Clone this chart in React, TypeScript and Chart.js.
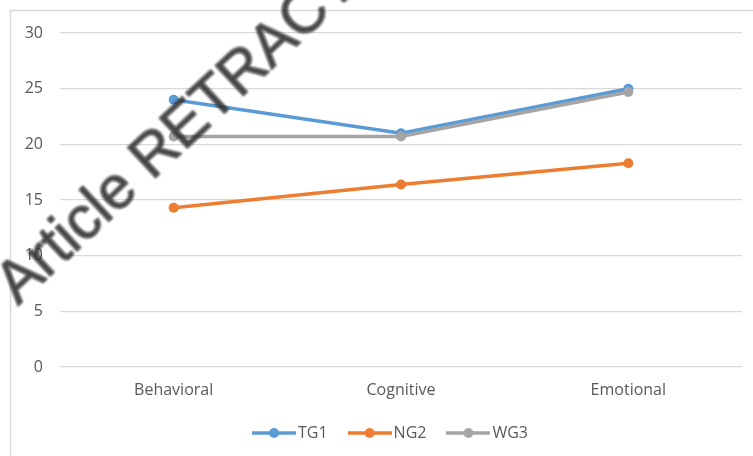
import React, { useEffect, useRef } from "react";
import { Chart, registerables } from "chart.js";

Chart.register(...registerables);

const categories = ["Behavioral", "Cognitive", "Emotional"];
const seriesNames = ["TG1", "NG2", "WG3"];
const tg1Values = [24.0, 21.0, 25.0];
const ng2Values = [14.3, 16.4, 18.3];
const wg3Values = [20.7, 20.7, 24.7];
const seriesColors = ["#5B9BD5", "#ED7D31", "#A5A5A5"];
const yMin = 0;
const yMax = 30;
const yStep = 5;
const watermarkText = "Article RETRACTED";

const FONT = "'Open Sans', 'Liberation Sans', sans-serif";

function makeLegendIcon(color: string): HTMLCanvasElement {
  const c = document.createElement("canvas");
  c.width = 44;
  c.height = 12;
  const ctx = c.getContext("2d")!;
  ctx.strokeStyle = color;
  ctx.lineWidth = 3.5;
  ctx.beginPath();
  ctx.moveTo(0, 6);
  ctx.lineTo(44, 6);
  ctx.stroke();
  ctx.fillStyle = color;
  ctx.beginPath();
  ctx.arc(22, 6, 5, 0, Math.PI * 2);
  ctx.fill();
  return c;
}

const framePlugin = {
  id: "frame",
  beforeDraw(chart: any) {
    const ctx = chart.ctx;
    ctx.save();
    ctx.fillStyle = "#ffffff";
    ctx.fillRect(0, 0, chart.width, chart.height);
    ctx.strokeStyle = "#d9d9d9";
    ctx.lineWidth = 1.5;
    ctx.strokeRect(10.5, 10.5, chart.width + 20, chart.height + 20);
    ctx.restore();
  },
};

const legendShiftPlugin = {
  id: "legendShift",
  afterLayout(chart: any) {
    const l = chart.legend;
    if (l) {
      l.left += 22;
      l.right += 22;
    }
  },
};

const watermarkPlugin = {
  id: "watermark",
  afterDraw(chart: any) {
    const ctx = chart.ctx;
    ctx.save();
    ctx.translate(18, 306);
    ctx.rotate((-43 * Math.PI) / 180);
    ctx.filter = "blur(1.2px)";
    ctx.font = "60px 'Liberation Sans', Arial, sans-serif";
    ctx.fillStyle = "rgba(50,50,50,0.9)";
    ctx.strokeStyle = "rgba(50,50,50,0.9)";
    ctx.lineWidth = 0.9;
    ctx.textBaseline = "alphabetic";
    ctx.fillText(watermarkText, 0, 0);
    ctx.strokeText(watermarkText, 0, 0);
    ctx.restore();
  },
};

export default function App() {
  const ref = useRef<HTMLCanvasElement | null>(null);

  useEffect(() => {
    if (!ref.current) return;
    const valueSets = [tg1Values, ng2Values, wg3Values];
    const icons = seriesColors.map((c) => makeLegendIcon(c));
    const chart = new Chart(ref.current, {
      type: "line",
      data: {
        labels: categories,
        datasets: seriesNames.map((name, i) => ({
          label: name,
          data: valueSets[i],
          borderColor: seriesColors[i],
          backgroundColor: seriesColors[i],
          pointBackgroundColor: seriesColors[i],
          pointBorderColor: seriesColors[i],
          pointBorderWidth: 0,
          pointRadius: 5,
          borderWidth: 3.5,
          tension: 0,
          fill: false,
          order: seriesNames.length - i,
        })),
      },
      options: {
        responsive: false,
        animation: false,
        layout: { padding: { left: 0, right: 11, top: 33, bottom: 5 } },
        scales: {
          x: {
            offset: true,
            grid: { display: false, drawTicks: false },
            border: { display: false },
            ticks: { color: "#595959", font: { family: FONT, size: 16 }, padding: 14 },
            afterFit(scale: any) {
              scale.height = 32;
            },
          },
          y: {
            min: yMin,
            max: yMax,
            ticks: { stepSize: yStep, color: "#595959", font: { family: FONT, size: 16 }, padding: 17 },
            grid: { color: "#d9d9d9", lineWidth: 1.3, drawTicks: false },
            border: { display: false },
            afterFit(scale: any) {
              scale.width = 60;
            },
          },
        },
        plugins: {
          tooltip: { enabled: false },
          legend: {
            position: "bottom",
            labels: {
              usePointStyle: true,
              pointStyleWidth: 32,
              padding: 26,
              color: "#595959",
              font: { family: FONT, size: 16 },
              generateLabels: () =>
                seriesNames.map((name, i) => ({
                  text: name,
                  fillStyle: seriesColors[i],
                  strokeStyle: seriesColors[i],
                  lineWidth: 0,
                  pointStyle: icons[i],
                  hidden: false,
                  datasetIndex: i,
                  fontColor: "#595959",
                })),
            },
          },
        },
      },
      plugins: [framePlugin, legendShiftPlugin, watermarkPlugin],
    } as any);
    return () => chart.destroy();
  }, []);

  return (
    <div style={{ position: "fixed", left: 0, top: 0, width: 753, height: 456, background: "#fff" }}>
      <canvas ref={ref} width={753} height={456} style={{ display: "block" }} />
    </div>
  );
}
